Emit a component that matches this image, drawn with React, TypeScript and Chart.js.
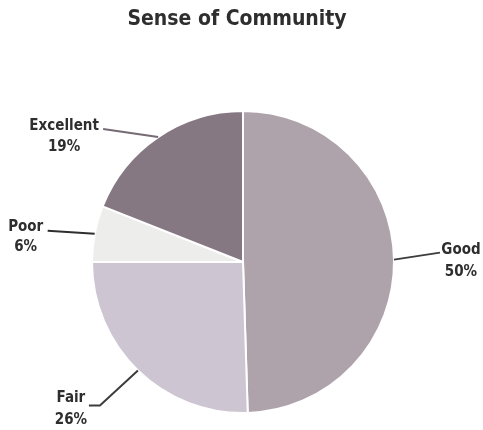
import React, { useEffect, useRef } from "react";
import { Chart, registerables } from "chart.js";

Chart.register(...registerables);

const TITLE = "Sense of Community";
const categories = ["Good", "Fair", "Poor", "Excellent"];
const values = [49.5, 25.5, 6, 19];
const percentLabels = ["50%", "26%", "6%", "19%"];
const colors = ["#aea2ab", "#cdc5d1", "#edeeec", "#857883"];

const FONT = "'DejaVu Sans Condensed', 'DejaVu Sans', sans-serif";

// label placement offsets relative to the slice's mid-angle anchor on the arc edge
const labelLayout: Record<string, { line: [number, number][]; text: [number, number]; line2: number; lineColor: string }> = {
  Good: { line: [[46, -7]], text: [67, -10], line2: 22, lineColor: "#3c3c3c" },
  Fair: { line: [[-38, 35], [-49, 35]], text: [-67, 28], line2: 22, lineColor: "#3c3c3c" },
  Poor: { line: [[-47, -3]], text: [-69, -7], line2: 20, lineColor: "#2e2e2e" },
  Excellent: { line: [[-55, -8]], text: [-94, -11], line2: 21, lineColor: "#766a74" },
};

const labelPlugin = {
  id: "pieLabels",
  afterDraw(chart: any) {
    const ctx = chart.ctx;
    const meta = chart.getDatasetMeta(0);
    ctx.save();
    ctx.fillStyle = "#2e2e2e";
    ctx.font = `bold 21px ${FONT}`;
    ctx.textAlign = "center";
    ctx.textBaseline = "middle";
    ctx.fillText(TITLE, 237, 20);

    meta.data.forEach((arc: any, i: number) => {
      const { x, y, startAngle, endAngle, outerRadius } = arc.getProps(
        ["x", "y", "startAngle", "endAngle", "outerRadius"],
        true
      );
      const mid = (startAngle + endAngle) / 2;
      const ax = x + Math.cos(mid) * outerRadius;
      const ay = y + Math.sin(mid) * outerRadius;
      const lay = labelLayout[categories[i]];
      ctx.strokeStyle = lay.lineColor;
      ctx.lineWidth = 2;
      ctx.beginPath();
      ctx.moveTo(ax, ay);
      lay.line.forEach(([dx, dy]) => ctx.lineTo(ax + dx, ay + dy));
      ctx.stroke();
      ctx.fillStyle = "#2e2e2e";
      ctx.font = `bold 15px ${FONT}`;
      ctx.textAlign = "center";
      ctx.textBaseline = "middle";
      const tx = ax + lay.text[0];
      const ty = ay + lay.text[1];
      ctx.fillText(categories[i], tx, ty);
      ctx.fillText(percentLabels[i], tx, ty + lay.line2);
    });
    ctx.restore();
  },
};

export default function App() {
  const ref = useRef<HTMLCanvasElement | null>(null);
  useEffect(() => {
    const chart = new Chart(ref.current as HTMLCanvasElement, {
      type: "pie",
      data: {
        labels: categories,
        datasets: [
          {
            data: values,
            backgroundColor: colors,
            borderColor: "#ffffff",
            borderWidth: 2,
          },
        ],
      },
      options: {
        animation: false,
        responsive: false,
        maintainAspectRatio: false,
        layout: { padding: { top: 110, bottom: 16, left: 91, right: 88 } },
        plugins: {
          legend: { display: false },
          title: { display: false },
          tooltip: { enabled: false },
        },
      },
      plugins: [labelPlugin],
    });
    return () => chart.destroy();
  }, []);
  return (
    <div style={{ position: "absolute", left: 0, top: 0, width: 483, height: 430, background: "#ffffff" }}>
      <canvas ref={ref} width={483} height={430} style={{ width: 483, height: 430 }} />
    </div>
  );
}
